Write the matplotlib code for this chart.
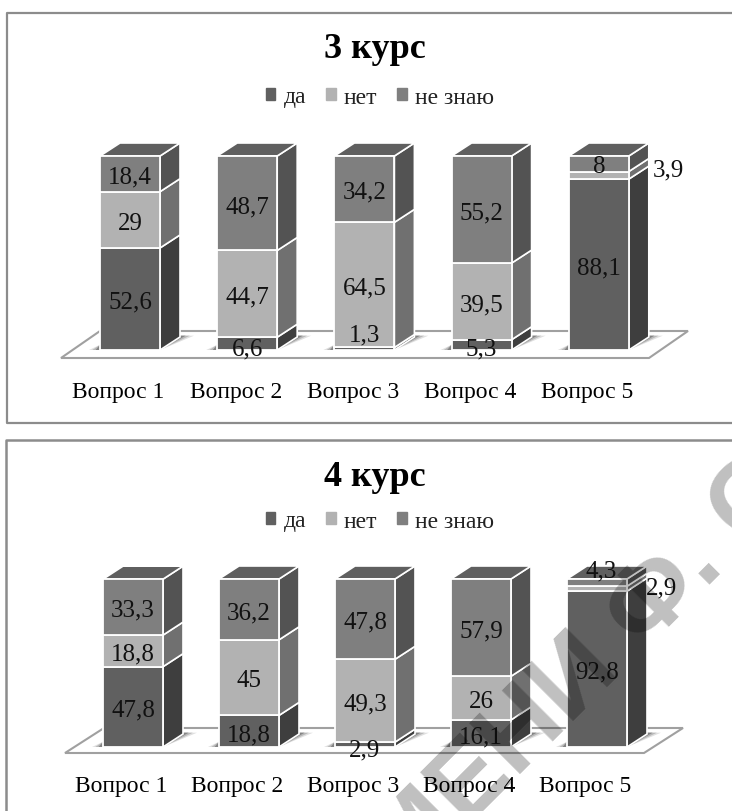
import matplotlib
matplotlib.use("Agg")
import matplotlib.pyplot as plt
from matplotlib.patches import Patch, Polygon
from matplotlib.transforms import ScaledTranslation

# === DATA ===
questions = ["Вопрос 1", "Вопрос 2", "Вопрос 3", "Вопрос 4", "Вопрос 5"]
series_names = ["да", "нет", "не знаю"]

yes_3 = [52.6, 6.6, 1.3, 5.3, 88.1]
no_3 = [29, 44.7, 64.5, 39.5, 3.9]
dunno_3 = [18.4, 48.7, 34.2, 55.2, 8]

yes_4 = [47.8, 18.8, 2.9, 16.1, 92.8]
no_4 = [18.8, 45, 49.3, 26, 2.9]
dunno_4 = [33.3, 36.2, 47.8, 57.9, 4.3]

# === SETTINGS ===
W, H = 732, 812
front_colors = ["#606060", "#b2b2b2", "#7f7f7f"]
side_colors = ["#3e3e3e", "#707070", "#535353"]
top_color = "#5f5f5f"
frame_color = "#8c8c8c"
floor_color = "#a0a0a0"

plt.rcParams["font.family"] = ["Liberation Serif", "DejaVu Serif"]

fig = plt.figure(figsize=(W / 100, H / 100), dpi=100)

# frames live in a full figure axes, in pixels
bg = fig.add_axes([0, 0, 1, 1])
bg.set_xlim(0, W)
bg.set_ylim(H, 0)
bg.axis("off")
bg.plot([W, 7, 7, W], [14, 14, 424, 424], color=frame_color, lw=1.6)
bg.plot([W, 6, 6], [441, 441, H], color=frame_color, lw=1.8)


def fmt(v):
    return str(v).replace(".", ",")


def draw_panel(title, yes, no, dunno, x_first, spacing, y_base, y_top, floor_px,
               title_y, legend_y, tick_y, moved):
    bar_w = 60 / spacing
    left = x_first - spacing / 2
    right = left + spacing * 5
    ax = fig.add_axes([left / W, 1 - y_base / H, (right - left) / W, (y_base - y_top) / H])
    ax.set_xlim(-0.5, 4.5)
    ax.set_ylim(0, 100)
    ax.patch.set_alpha(0)
    for s in ax.spines.values():
        s.set_visible(False)
    ax.set_yticks([])
    ax.set_xticks(range(5))
    ax.set_xticklabels(questions, fontsize=17)
    ax.tick_params(axis="x", length=0, pad=tick_y - y_base)
    # category labels sit a bit left of the bars
    for lab in ax.get_xticklabels():
        lab.set_transform(lab.get_transform() + ScaledTranslation(-0.115, 0, fig.dpi_scale_trans))

    # depth of the fake 3D, pixels -> data units
    per_px = 100 / (y_base - y_top)
    dx = 20 / spacing
    dy = 13 * per_px
    px_x = 1 / spacing

    # floor plate
    fl, fr, ff, fb = floor_px
    to_x = lambda px: (px - left) / spacing - 0.5
    to_y = lambda px: (y_base - px) * per_px
    floor_pts = [(to_x(fl), to_y(ff)), (to_x(fr), to_y(ff)),
                 (to_x(fr) + 39 * px_x, to_y(fb)), (to_x(fl) + 39 * px_x, to_y(fb))]
    ax.add_patch(Polygon(floor_pts, closed=True, facecolor="white", edgecolor=floor_color,
                         lw=1.5, clip_on=False, zorder=1))

    for i in range(5):
        # soft shadow on the floor, three steps from pale to dark
        xl, xr = i - bar_w / 2, i + bar_w / 2
        for grow, shade in [(1.0, "#e0e0e0"), (0.7, "#b8b8b8"), (0.4, "#848484")]:
            ax.add_patch(Polygon([(xl - 11 * grow * px_x, 0), (xr, 0),
                                  (xr + dx + 14 * grow * px_x, dy * 1.1),
                                  (xr + dx, dy * 1.1), (xl, dy * 0.4)],
                                 closed=True, facecolor=shade, edgecolor="none",
                                 clip_on=False, zorder=1.5))

    bottom = [0, 0, 0, 0, 0]
    for k, vals in enumerate([yes, no, dunno]):
        ax.bar(range(5), vals, bar_w, bottom=bottom, color=front_colors[k],
               edgecolor="white", lw=1.3, zorder=3, clip_on=False)
        for i, v in enumerate(vals):
            xr = i + bar_w / 2
            b = bottom[i]
            ax.add_patch(Polygon([(xr, b), (xr + dx, b + dy), (xr + dx, b + v + dy), (xr, b + v)],
                                 closed=True, facecolor=side_colors[k], edgecolor="white",
                                 lw=1.2, clip_on=False, zorder=2.5))
            pos = moved.get((k, i))
            tx, ty = pos if pos else (i, b + v / 2)
            ax.annotate(fmt(v), (tx, ty), xytext=(0, -2), textcoords="offset points",
                        ha="center", va="center", fontsize=18, color="#111111",
                        zorder=5, annotation_clip=False)
        bottom = [bottom[i] + vals[i] for i in range(5)]

    for i in range(5):
        xl, xr = i - bar_w / 2, i + bar_w / 2
        t = bottom[i]
        ax.add_patch(Polygon([(xl, t), (xr, t), (xr + dx, t + dy), (xl + dx, t + dy)], closed=True,
                             facecolor=top_color, edgecolor="white", lw=1.2, clip_on=False,
                             zorder=2.6))

    ax.text(to_x(375), to_y(title_y), title, ha="center", va="center", fontsize=26,
            fontweight="bold", color="black", clip_on=False)
    handles = [Patch(color=c, label=n) for c, n in zip(front_colors, series_names)]
    ax.legend(handles=handles, loc="center", bbox_to_anchor=(to_x(380), to_y(legend_y)),
              bbox_transform=ax.transData, ncol=3, frameon=False, fontsize=17,
              handlelength=0.4, handleheight=0.4, handletextpad=0.35, columnspacing=0.85,
              borderpad=0, labelcolor="#222222")


draw_panel("3 курс", yes_3, no_3, dunno_3, 130, 117.2, 351, 157, (61, 649, 359, 332),
           50, 98, 373,
           {(0, 1): (1, 2.0), (0, 2): (2, 9.5), (0, 3): (3, 2.0),
            (1, 4): (4.59, 94.5), (2, 4): (4, 96.3)})
draw_panel("4 курс", yes_4, no_4, dunno_4, 133, 116.0, 748, 580, (65, 644, 754, 729),
           478, 522, 768,
           {(0, 2): (2, 0.0), (1, 4): (4.56, 96.5), (2, 4): (4.04, 106.5)})

# watermark across the lower panel
fig.text(352 / W, 1 - 942 / H, "ИМЕНИ Ф. СКОРИНЫ", rotation=45, rotation_mode="anchor",
         ha="left", va="baseline", fontsize=75, family="Liberation Sans", fontweight="bold",
         color="black", alpha=0.25, zorder=10)

fig.savefig("out.png", dpi=100)
plt.close(fig)
